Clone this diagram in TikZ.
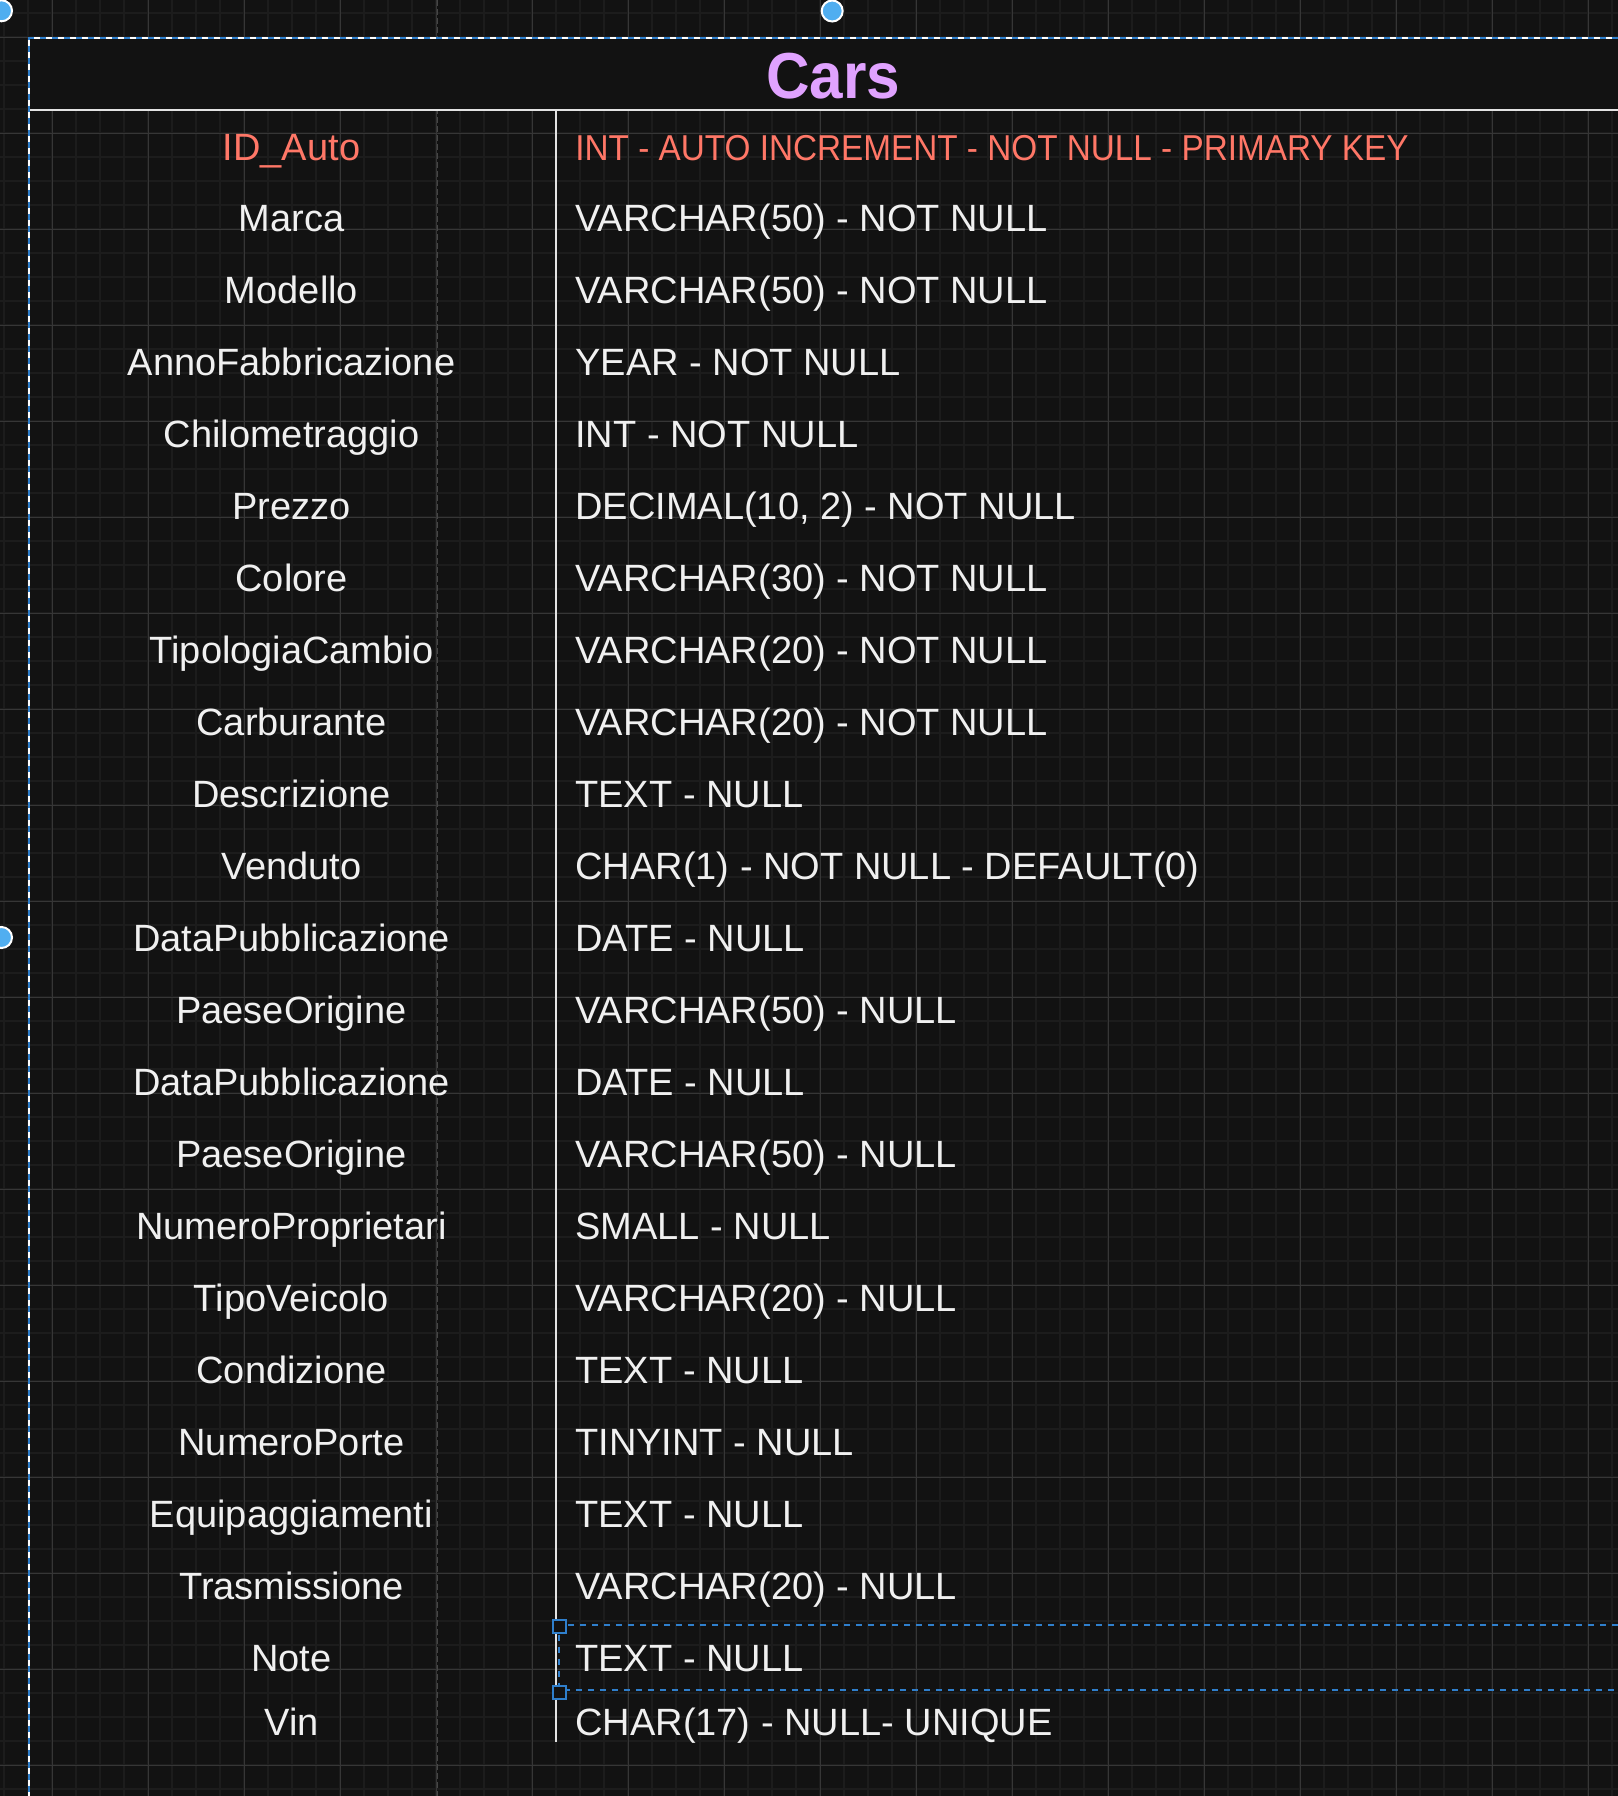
\documentclass[tikz,border=0pt]{standalone}
\usepackage{fontspec}
\setmainfont{Liberation Sans}
\usepackage{graphicx}
\definecolor{bg}{HTML}{121212}
\definecolor{gridminor}{HTML}{1C1C1C}
\definecolor{gridmajor}{HTML}{363636}
\definecolor{guide}{HTML}{464646}
\definecolor{selblue}{HTML}{2F7FCC}
\definecolor{dotblue}{HTML}{50AEF0}
\definecolor{pkred}{HTML}{FF7767}
\definecolor{titlepurple}{HTML}{E0A2FF}
\definecolor{txt}{HTML}{F0F0F0}
\definecolor{rulecol}{HTML}{E2E2E2}
\begin{document}
\begin{tikzpicture}[x=0.5pt,y=-0.5pt,
  namecell/.style={anchor=base, inner sep=0pt, text=txt, font=\fontsize{19}{22}\selectfont},
  typecell/.style={anchor=base west, inner sep=0pt, text=txt, font=\fontsize{19}{22}\selectfont},
  selhandle/.style={draw=selblue, fill=bg, line width=1pt, minimum size=6.5pt, inner sep=0pt},
  dothandle/.style={circle, draw=white, fill=dotblue, line width=1pt, minimum size=10.5pt, inner sep=0pt},
  seldash/.style={selblue, line width=1pt, dash pattern=on 3pt off 3pt}]
\useasboundingbox (0,0) rectangle (1618,1796);
\clip (0,0) rectangle (1618,1796);
\fill[bg] (0,0) rectangle (1618,1796);
% grid
\foreach \k in {0,...,67} \draw[gridminor, line width=1pt] ({4.3+24*\k},0) -- (4.3+24*\k,1796);
\foreach \k in {0,...,74} \draw[gridminor, line width=1pt] (0,{13.3+24*\k}) -- (1618,13.3+24*\k);
\foreach \k in {0,...,16} \draw[gridmajor, line width=0.55pt] ({52.3+96*\k},0) -- (52.3+96*\k,1796);
\foreach \k in {0,...,18} \draw[gridmajor, line width=0.55pt] (0,{37.3+96*\k}) -- (1618,37.3+96*\k);
% guide
\draw[guide, line width=0.75pt, dash pattern=on 3pt off 1.5pt] (437.3,0) -- (437.3,1796);
% title area
\fill[bg] (29.3,38.3) rectangle (1618,110);
\node[anchor=base, inner sep=0pt, text=titlepurple, font=\fontsize{32.5}{36}\selectfont\bfseries] (title) at (833,98.3) {\scalebox{0.927}[1]{Cars}};
\draw[rulecol, line width=1.2pt] (29.3,110) -- (1618,110);
\draw[rulecol, line width=1.15pt] (555.7,110) -- (555.7,1742);
% outer border with selection
\draw[white, line width=1pt] (1618,38.3) -- (29.3,38.3) -- (29.3,1796);
\draw[seldash] (1618,38.3) -- (29.3,38.3) -- (29.3,1796);
% rows
\node[namecell, text=pkred] (l0) at (291.5,160.7) {ID\_Auto};
\node[typecell, text=pkred, font=\fontsize{18}{21}\selectfont] (r0) at (575,160.7) {\scalebox{0.925}[1]{INT - AUTO INCREMENT - NOT NULL - PRIMARY KEY}};
\foreach \n/\t [count=\i from 1] in {
  Marca/VARCHAR(50) - NOT NULL,
  Modello/VARCHAR(50) - NOT NULL,
  AnnoFabbricazione/YEAR - NOT NULL,
  Chilometraggio/INT - NOT NULL,
  {Prezzo/DECIMAL(10, 2) - NOT NULL},
  Colore/VARCHAR(30) - NOT NULL,
  TipologiaCambio/VARCHAR(20) - NOT NULL,
  Carburante/VARCHAR(20) - NOT NULL,
  Descrizione/TEXT - NULL,
  Venduto/CHAR(1) - NOT NULL - DEFAULT(0),
  DataPubblicazione/DATE - NULL,
  PaeseOrigine/VARCHAR(50) - NULL,
  DataPubblicazione/DATE - NULL,
  PaeseOrigine/VARCHAR(50) - NULL,
  NumeroProprietari/SMALL - NULL,
  TipoVeicolo/VARCHAR(20) - NULL,
  Condizione/TEXT - NULL,
  NumeroPorte/TINYINT - NULL,
  Equipaggiamenti/TEXT - NULL,
  Trasmissione/VARCHAR(20) - NULL}
{
  \node[namecell] (l\i) at (291.5,{159.7+72*\i}) {\n};
  \node[typecell] (r\i) at (575,{159.7+72*\i}) {\t};
}
\node[namecell] (l21) at (291.5,1671.7) {Note};
\node[typecell] (r21) at (575,1671.7) {TEXT - NULL};
\node[namecell] (l22) at (291.5,1735) {Vin};
\node[typecell] (r22) at (575,1735) {CHAR(17) - NULL- UNIQUE};
% row selection
\draw[seldash] (1618,1625.3) -- (559.3,1625.3) -- (559.3,1690) -- (1618,1690);
\node[selhandle] (hnw) at (559.3,1626) {};
\node[selhandle] (hsw) at (559.3,1692) {};
% handles of the outer selection
\node[dothandle] (dtl) at (1.5,10.8) {};
\node[dothandle] (dtm) at (832.2,11) {};
\node[dothandle] (dml) at (1.5,937.5) {};
\end{tikzpicture}
\end{document}
